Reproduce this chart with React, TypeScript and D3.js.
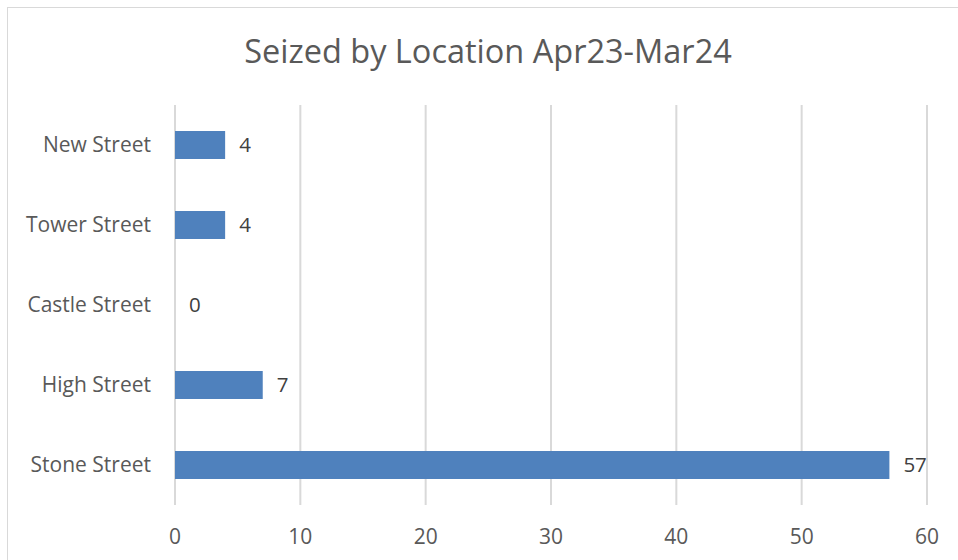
import * as d3 from 'd3'

const categories = ['New Street', 'Tower Street', 'Castle Street', 'High Street', 'Stone Street']
const values = [4, 4, 0, 7, 57]
const xTicks = [0, 10, 20, 30, 40, 50, 60]
const title = 'Seized by Location Apr23-Mar24'

export default function App() {
  const width = 958
  const height = 560
  const marginLeft = 175
  const marginRight = 31
  const marginTop = 105
  const plotBottom = 505

  const x = d3.scaleLinear([0, 60], [marginLeft, width - marginRight])
  const y = d3
    .scaleBand<string>()
    .domain(categories)
    .range([marginTop, plotBottom])
    .paddingInner(0.65)
    .paddingOuter(0.325)

  const font = "'Open Sans', 'Liberation Sans', sans-serif"

  return (
    <svg
      width={width}
      height={height}
      style={{ position: 'absolute', left: 0, top: 0, background: '#fff' }}
      fontFamily={font}
    >
      <rect x={7.5} y={7.5} width={width + 10} height={height + 10} fill="#fff" stroke="#d9d9d9" />
      <text x={488} y={63} textAnchor="middle" fontSize={32.5} fill="#595959">
        {title}
      </text>
      {/* grid */}
      <g stroke="#d9d9d9" strokeWidth={2}>
        {xTicks.map((t) => (
          <line key={t} x1={x(t)} x2={x(t)} y1={marginTop} y2={plotBottom} />
        ))}
      </g>
      {/* bars */}
      <g fill="#4f81bd">
        {categories.map((c, i) => (
          <rect key={c} x={x(0)} y={y(c)} width={x(values[i]) - x(0)} height={y.bandwidth()} />
        ))}
      </g>
      {/* value labels */}
      <g fontSize={20.5} fill="#404040">
        {categories.map((c, i) => (
          <text key={c} x={x(values[i]) + 14} y={(y(c) ?? 0) + y.bandwidth() / 2} dy="0.35em">
            {values[i]}
          </text>
        ))}
      </g>
      {/* category axis */}
      <g fontSize={21} fill="#595959" textAnchor="end">
        {categories.map((c) => (
          <text key={c} x={151} y={(y(c) ?? 0) + y.bandwidth() / 2} dy="0.35em">
            {c}
          </text>
        ))}
      </g>
      {/* value axis */}
      <g fontSize={21} fill="#595959" textAnchor="middle">
        {xTicks.map((t) => (
          <text key={t} x={x(t)} y={537} dy="0.35em">
            {t}
          </text>
        ))}
      </g>
    </svg>
  )
}
